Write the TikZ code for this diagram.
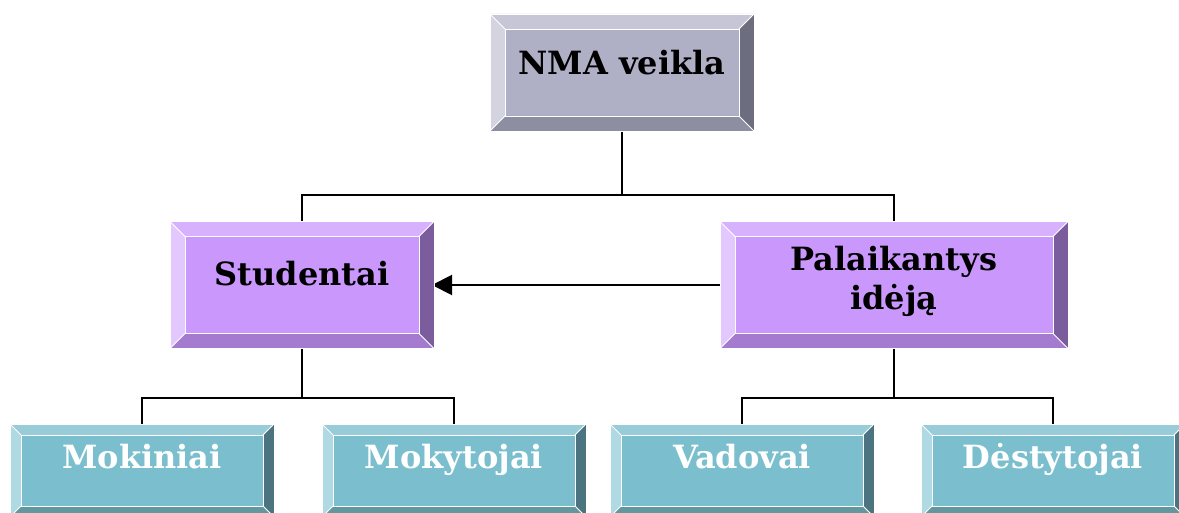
\documentclass[tikz,border=0pt]{standalone}
\usepackage{fontspec}
\setmainfont{DejaVu Serif}
\usetikzlibrary{arrows.meta}
\definecolor{gF}{HTML}{AFAFC5}\definecolor{gT}{HTML}{C6C6D7}\definecolor{gL}{HTML}{D4D4E1}\definecolor{gR}{HTML}{6D6D80}\definecolor{gB}{HTML}{8E8EA3}
\definecolor{pF}{HTML}{CA98FC}\definecolor{pT}{HTML}{D8B1FE}\definecolor{pL}{HTML}{E2C8FF}\definecolor{pR}{HTML}{7B5C9D}\definecolor{pB}{HTML}{A47BCE}
\definecolor{tF}{HTML}{7BBFCE}\definecolor{tT}{HTML}{98CCD8}\definecolor{tL}{HTML}{AFDAE3}\definecolor{tR}{HTML}{4B7480}\definecolor{tB}{HTML}{63979F}
\newcommand\bevelbox[3]{%
  \fill[#3F] (#1.north west) rectangle (#1.south east);
  \fill[#3T] (#1.north west) -- (#1.north east) -- ([shift={(-#2,#2)}]#1.north east) -- ([shift={(#2,#2)}]#1.north west) -- cycle;
  \fill[#3L] (#1.north west) -- ([shift={(#2,#2)}]#1.north west) -- ([shift={(#2,-#2)}]#1.south west) -- (#1.south west) -- cycle;
  \fill[#3R] (#1.north east) -- ([shift={(-#2,#2)}]#1.north east) -- ([shift={(-#2,-#2)}]#1.south east) -- (#1.south east) -- cycle;
  \fill[#3B] (#1.south west) -- ([shift={(#2,-#2)}]#1.south west) -- ([shift={(-#2,-#2)}]#1.south east) -- (#1.south east) -- cycle;
  \draw[white,line width=0.8pt] ([shift={(#2,#2)}]#1.north west) rectangle ([shift={(-#2,-#2)}]#1.south east);
  \draw[white,line width=0.8pt] (#1.north west) -- ([shift={(#2,#2)}]#1.north west)
     (#1.north east) -- ([shift={(-#2,#2)}]#1.north east)
     (#1.south west) -- ([shift={(#2,-#2)}]#1.south west)
     (#1.south east) -- ([shift={(-#2,-#2)}]#1.south east);
  \draw[white,line width=0.6pt] (#1.north west) rectangle (#1.south east);
}
\begin{document}
\begin{tikzpicture}[x=1pt,y=-1pt,
  box/.style={inner sep=0pt,outer sep=0pt},
  bigbox/.style={box,minimum width=264pt,minimum height=127pt},
  smallbox/.style={box,minimum width=264pt,minimum height=93pt},
  lbl/.style={font=\bfseries\fontsize{32}{39}\selectfont,inner sep=0pt,align=center,anchor=base},
  wlbl/.style={lbl,text=white},
  conn/.style={line width=1.6pt,black},
  arr/.style={line width=2pt,black,-{Triangle[length=20pt,width=20pt]}}]
\useasboundingbox (0,0) rectangle (1179,513);
\clip (0,0) rectangle (1179,513);
\fill[white] (0,0) rectangle (1179,513);
% nodes
\node[box,minimum width=264pt,minimum height=117pt] (top) at (622,72.5) {};
\node[bigbox] (stud) at (302,285) {};
\node[bigbox,minimum width=348pt] (pal) at (894,285) {};
\node[smallbox] (mok) at (142,470.5) {};
\node[smallbox] (moky) at (454,470.5) {};
\node[smallbox] (vad) at (742,470.5) {};
\node[smallbox] (des) at (1053,470.5) {};
% connectors
\coordinate (j1) at (622,195);
\coordinate (j2) at (302,398);
\coordinate (j3) at (894,398);
\draw[conn] (top.south) -- (j1);
\draw[conn] (stud.north) |- (j1) -| (pal.north);
\draw[conn] (stud.south) -- (j2);
\draw[conn] (mok.north) |- (j2) -| (moky.north);
\draw[conn] (pal.south) -- (j3);
\draw[conn] (vad.north) |- (j3) -| (des.north);
\draw[arr,shorten >=-2pt] (pal.west) -- (stud.east);
% boxes
\bevelbox{top}{15}{g}
\bevelbox{stud}{15}{p}
\bevelbox{pal}{15}{p}
\bevelbox{mok}{11}{t}
\bevelbox{moky}{11}{t}
\bevelbox{vad}{11}{t}
\bevelbox{des}{11}{t}
% labels
\node[lbl] (topt) at (622,75) {NMA veikla};
\node[lbl] (studt) at (302,286) {Studentai};
\node[lbl] (palt) at (894,309) {Palaikantys\\idėją};
\node[wlbl] (mokt) at (142,468) {Mokiniai};
\node[wlbl] (mokyt) at (454,468) {Mokytojai};
\node[wlbl] (vadt) at (742,468) {Vadovai};
\node[wlbl] (dest) at (1053,468) {Dėstytojai};
\end{tikzpicture}
\end{document}
